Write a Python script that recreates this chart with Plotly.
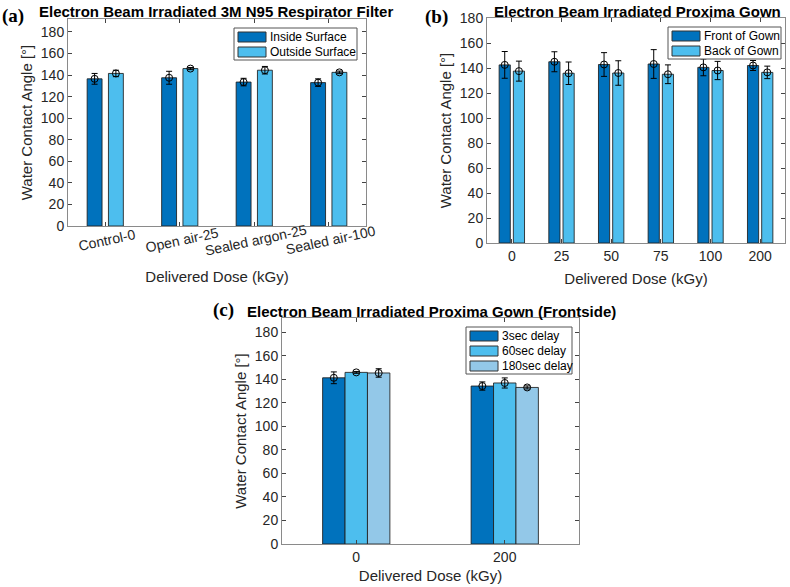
import plotly.graph_objects as go

# ---------------- data ----------------
a_categories = ["Control-0", "Open air-25", "Sealed argon-25", "Sealed air-100"]
a_series = ["Inside Surface", "Outside Surface"]
a_inside = [136.5, 137.5, 133.5, 133.0]
a_inside_err = [5.0, 6.0, 3.5, 3.5]
a_outside = [141.5, 146.0, 144.5, 142.5]
a_outside_err = [3.0, 1.0, 3.5, 1.2]

b_categories = ["0", "25", "50", "75", "100", "200"]
b_series = ["Front of Gown", "Back of Gown"]
b_front = [142.5, 145.0, 142.8, 143.2, 140.5, 142.0]
b_front_err = [10.7, 8.0, 9.5, 11.5, 6.7, 4.0]
b_back = [137.5, 135.8, 136.0, 135.0, 138.0, 136.5]
b_back_err = [8.0, 9.0, 9.8, 7.5, 7.3, 5.0]

c_categories = ["0", "200"]
c_series = ["3sec delay", "60sec delay", "180sec delay"]
c_3sec = [141.2, 134.2]
c_3sec_err = [5.0, 3.5]
c_60sec = [145.8, 136.8]
c_60sec_err = [0.8, 4.3]
c_180sec = [145.3, 133.0]
c_180sec_err = [3.6, 1.3]

# ---------------- style ----------------
W, H = 790, 587
DARK = "#0072BD"
LIGHT = "#4DBEEE"
PALE = "#93C8E8"
EDGE = "rgba(30,30,30,0.85)"
AXIS_COL = "#8a8a8a"
TICK_FONT = dict(family="Liberation Sans, Arial", size=14, color="#262626")
TITLE_FONT = dict(family="Liberation Sans, Arial", size=15, color="#262626")
LEG_FONT = dict(family="Liberation Sans, Arial", size=12, color="black")


def px_x(x):
    return x / W


def px_y(y):
    return 1 - y / H


fig = go.Figure()


def add_group(names, values, errors, colors, xa, ya, width, offsets):
    for name, vals, color, off in zip(names, values, colors, offsets):
        idx = list(range(1, len(vals) + 1))
        fig.add_trace(go.Bar(
            x=idx, y=vals, name=name, width=width, offset=off - width / 2,
            marker=dict(color=color, line=dict(color=EDGE, width=1)),
            xaxis=xa, yaxis=ya, showlegend=False, hoverinfo="skip",
        ))
    for name, vals, errs, off in zip(names, values, errors, offsets):
        idx = [i + 1 + off for i in range(len(vals))]
        fig.add_trace(go.Scatter(
            x=idx, y=vals, mode="markers", name=name + " error",
            marker=dict(symbol="circle-open", size=7, color="black", line=dict(width=1)),
            error_y=dict(type="data", array=errs, color="black", thickness=1, width=3),
            xaxis=xa, yaxis=ya, showlegend=False, hoverinfo="skip",
        ))


add_group(a_series, [a_inside, a_outside], [a_inside_err, a_outside_err], [DARK, LIGHT],
          "x", "y", 0.2, [-0.143, 0.143])
add_group(b_series, [b_front, b_back], [b_front_err, b_back_err], [DARK, LIGHT],
          "x2", "y2", 0.225, [-0.143, 0.143])
add_group(c_series, [c_3sec, c_60sec, c_180sec], [c_3sec_err, c_60sec_err, c_180sec_err],
          [DARK, LIGHT, PALE], "x3", "y3", 0.151, [-0.151, 0.0, 0.151])


def xaxis_cfg(n, labels, domain, anchor, show, standoff):
    return dict(
        domain=domain, anchor=anchor, range=[0.5, n + 0.5],
        tickmode="array", tickvals=list(range(1, n + 1)), ticktext=labels,
        showticklabels=show, ticks="inside", ticklen=4, tickcolor="#444",
        mirror="ticks", showline=True, linecolor=AXIS_COL, linewidth=1,
        showgrid=False, zeroline=False, tickfont=TICK_FONT, automargin=False,
        title=dict(text="Delivered Dose (kGy)", font=TITLE_FONT, standoff=standoff),
    )


def yaxis_cfg(domain, anchor, top, standoff):
    return dict(
        domain=domain, anchor=anchor, range=[0, top], tick0=0, dtick=20,
        ticks="inside", ticklen=4, tickcolor="#444",
        mirror="ticks", showline=True, linecolor=AXIS_COL, linewidth=1,
        showgrid=False, zeroline=False, tickfont=TICK_FONT, automargin=False,
        title=dict(text="Water Contact Angle [°]", font=TITLE_FONT, standoff=standoff),
    )


dom_a = ([px_x(68), px_x(366)], [px_y(226), px_y(19)])
dom_b = ([px_x(487), px_x(785)], [px_y(243), px_y(18)])
dom_c = ([px_x(282), px_x(579)], [px_y(544), px_y(318)])

fig.update_layout(
    width=W, height=H, autosize=False,
    margin=dict(l=0, r=0, t=0, b=0),
    paper_bgcolor="white", plot_bgcolor="white",
    barmode="overlay", showlegend=False,
    xaxis=xaxis_cfg(len(a_categories), a_categories, dom_a[0], "y", False, 45),
    yaxis=yaxis_cfg(dom_a[1], "x", 192, 4),
    xaxis2=xaxis_cfg(len(b_categories), b_categories, dom_b[0], "y2", True, 10),
    yaxis2=yaxis_cfg(dom_b[1], "x2", 180, 4),
    xaxis3=xaxis_cfg(len(c_categories), c_categories, dom_c[0], "y3", True, 6),
    yaxis3=yaxis_cfg(dom_c[1], "x3", 192, 4),
)

annotations = []
shapes = []

# rotated category labels for panel (a)
for i, lab in enumerate(a_categories):
    annotations.append(dict(
        x=i + 1, y=0, xref="x", yref="y", text=lab, showarrow=False,
        textangle=-12, xanchor="center", yanchor="middle", yshift=-14, xshift=2,
        font=TICK_FONT,
    ))

TITLE_BOLD = dict(family="Liberation Sans, Arial", size=15, color="black")
PANEL_FONT = dict(family="Liberation Serif, Times New Roman", size=19, color="black")
for text, xc, yc in [
    ("<b>Electron Beam Irradiated 3M N95 Respirator Filter</b>", 216, 11),
    ("<b>Electron Beam Irradiated Proxima Gown</b>", 637, 11),
    ("<b>Electron Beam Irradiated Proxima Gown (Frontside)</b>", 431, 311),
]:
    annotations.append(dict(x=px_x(xc), y=px_y(yc), xref="paper", yref="paper",
                            text=text, showarrow=False, xanchor="center",
                            yanchor="middle", font=TITLE_BOLD))
for text, xc, yc in [("<b>(a)</b>", 13, 16), ("<b>(b)</b>", 436, 17), ("<b>(c)</b>", 223, 310)]:
    annotations.append(dict(x=px_x(xc), y=px_y(yc), xref="paper", yref="paper",
                            text=text, showarrow=False, xanchor="center",
                            yanchor="middle", font=PANEL_FONT))


# boxed legends in the MATLAB style (swatch + label per series)
def add_legend(names, colors, left, right, top):
    n = len(names)
    bottom = top + 9 + 15 * (n - 1) + 8
    shapes.append(dict(type="rect", xref="paper", yref="paper",
                       x0=px_x(left), x1=px_x(right), y0=px_y(bottom), y1=px_y(top),
                       line=dict(color="#555", width=1), fillcolor="white", layer="above"))
    for k, (name, color) in enumerate(zip(names, colors)):
        yc = top + 9 + 15 * k
        shapes.append(dict(type="rect", xref="paper", yref="paper",
                           x0=px_x(left + 4), x1=px_x(left + 32),
                           y0=px_y(yc + 5), y1=px_y(yc - 5),
                           line=dict(color="#333", width=1), fillcolor=color, layer="above"))
        annotations.append(dict(x=px_x(left + 34), y=px_y(yc), xref="paper", yref="paper",
                                text=name, showarrow=False, xanchor="left",
                                yanchor="middle", font=LEG_FONT))


add_legend(a_series, [DARK, LIGHT], 234, 357, 28)
add_legend(b_series, [DARK, LIGHT], 668, 781, 27)
add_legend(c_series, [DARK, LIGHT, PALE], 466, 572, 327)

fig.update_layout(annotations=annotations, shapes=shapes)

# the page's default 8 px body margin would push the figure off the window edge
fig.write_html("out.html", config={"displayModeBar": False},
               post_script="document.body.style.margin='0px';")
